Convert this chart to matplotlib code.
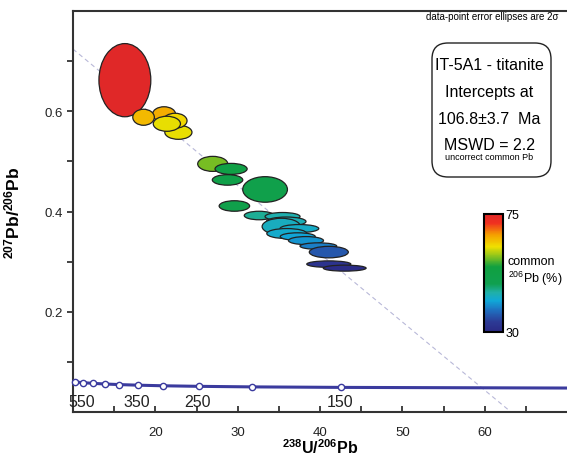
import matplotlib
matplotlib.use('Agg')
import matplotlib.pyplot as plt
from matplotlib.patches import Ellipse, FancyBboxPatch
from matplotlib.colors import LinearSegmentedColormap, Normalize
from matplotlib.transforms import IdentityTransform
import matplotlib.cm as cm

plt.rcParams['font.family'] = ['Liberation Sans', 'DejaVu Sans']
plt.rcParams['mathtext.fontset'] = 'custom'
plt.rcParams['mathtext.rm'] = 'Liberation Sans'
plt.rcParams['mathtext.bf'] = 'Liberation Sans:bold'

# concordia (Tera-Wasserburg), age markers in Ma
conc_age = [600, 550, 500, 450, 400, 350, 300, 250, 200, 150]
conc_x = [10.25, 11.23, 12.40, 13.83, 15.62, 17.92, 20.99, 25.29, 31.73, 42.5]
conc_y = [0.0599, 0.0585, 0.0572, 0.0559, 0.0547, 0.0535, 0.0523, 0.0512, 0.0501, 0.0491]
conc_end_x = 70.0
conc_end_y = 0.0478
age_labels = ['550', '350', '250', '150']
age_label_x = [11.1, 17.8, 25.1, 42.4]

# discordia (regression line)
disc_x = [10.0, 63.2]
disc_y = [0.724, 0.0]

# error ellipses: centre, full width (238/206), full height (207/206), common 206Pb %
ell_x = [16.3, 21.06, 18.57, 22.8, 22.4, 21.4,
         26.97, 29.2, 28.77, 33.33, 29.6,
         32.6, 35.45, 35.9, 35.3, 37.5, 35.97, 37.3, 38.3, 39.8, 41.07, 41.07, 43.0]
ell_y = [0.662, 0.594, 0.588, 0.558, 0.581, 0.575,
         0.495, 0.485, 0.463, 0.444, 0.411,
         0.392, 0.390, 0.380, 0.370, 0.366, 0.356, 0.350, 0.342, 0.331, 0.319, 0.295, 0.287]
ell_w = [6.3, 2.8, 2.62, 3.3, 2.9, 3.3,
         3.65, 3.9, 3.7, 5.43, 3.7,
         3.6, 4.25, 4.8, 4.66, 4.7, 4.86, 4.25, 4.25, 4.46, 4.74, 5.35, 5.2]
ell_h = [0.146, 0.030, 0.032, 0.028, 0.030, 0.030,
         0.030, 0.022, 0.021, 0.051, 0.021,
         0.017, 0.016, 0.018, 0.033, 0.016, 0.020, 0.015, 0.016, 0.013, 0.023, 0.013, 0.012]
ell_pb = [75, 66, 65, 62, 63, 62,
          58, 52, 51, 50, 50,
          45.5, 44.5, 44, 43.5, 43, 42.5, 41.5, 40.5, 39, 36, 32, 30.5]

cmap = LinearSegmentedColormap.from_list('cpb', [
    (0.0, '#2b2a85'), (0.08, '#2c3a95'), (0.18, '#1f70c0'), (0.26, '#10a8d8'),
    (0.33, '#20b0a8'), (0.40, '#10a050'), (0.55, '#10a040'), (0.63, '#80c020'),
    (0.72, '#f0e000'), (0.82, '#f5a000'), (0.92, '#f03020'), (1.0, '#e02828')])
norm = Normalize(30, 75)

fig = plt.figure(figsize=(5.67, 4.6), dpi=100)
ax = fig.add_axes([73/567, 47/460, 494/567, 401/460])

ax.plot(disc_x, disc_y, color='#b8b8d8', lw=0.8, dashes=(4, 3), zorder=1)

for x, y, w, h, p in zip(ell_x, ell_y, ell_w, ell_h, ell_pb):
    ax.add_patch(Ellipse((x, y), w, h, facecolor=cmap(norm(p)), edgecolor='#222222', lw=0.9, zorder=2))

ax.plot(conc_x + [conc_end_x], conc_y + [conc_end_y], color='#3b3b9e', lw=2.2, zorder=3, clip_on=False)
ax.plot(conc_x, conc_y, 'o', ms=4.5, mfc='white', mec='#3b3b9e', mew=1, zorder=4, clip_on=False)
for lab, lx in zip(age_labels, age_label_x):
    ax.text(lx, 0.021, lab, ha='center', va='center', fontsize=11.5, color='#222222')

ax.set_xlim(10, 70)
ax.set_ylim(0, 0.8)
ax.set_xticks([15, 20, 25, 30, 35, 40, 45, 50, 55, 60, 65])
ax.set_xticklabels(['', '20', '', '30', '', '40', '', '50', '', '60', ''])
ax.set_yticks([0.1, 0.2, 0.3, 0.4, 0.5, 0.6, 0.7])
ax.set_yticklabels(['', '0.2', '', '0.4', '', '0.6', ''])
ax.tick_params(axis='x', direction='in', length=4, width=1.2, labelsize=9.5, pad=10, colors='#222222')
ax.tick_params(axis='y', direction='out', length=4, width=1.2, labelsize=9.5, colors='#222222')
for s in ['left', 'bottom', 'top']:
    ax.spines[s].set_linewidth(1.5)
    ax.spines[s].set_color('#333333')
ax.spines['right'].set_visible(False)

ax.set_xlabel(r'$\mathbf{^{238}U/^{206}Pb}$', fontsize=11.5)
ax.xaxis.set_label_coords(0.5, -0.064)
ax.set_ylabel(r'$\mathbf{^{207}Pb/^{206}Pb}$', fontsize=12.5)
ax.yaxis.set_label_coords(-0.103, 0.5)

fig.text(559/567, 1 - 17/460, 'data-point error ellipses are 2σ', ha='right', va='center', fontsize=7)

box = FancyBboxPatch((432, 460 - 178), 119, 134, boxstyle='round,pad=0,rounding_size=16',
                     transform=IdentityTransform(), facecolor='white', edgecolor='#222222', lw=1.0)
fig.patches.append(box)
info = ['IT-5A1 - titanite', 'Intercepts at', '106.8±3.7  Ma', 'MSWD = 2.2']
info_y = [66, 93, 120, 145]
for t, py in zip(info, info_y):
    fig.text(489/567, 1 - py/460, t, ha='center', va='center', fontsize=11.5)
fig.text(489/567, 1 - 158/460, 'uncorrect common Pb', ha='center', va='center', fontsize=6.5)

cax = fig.add_axes([483.5/567, (460 - 332.5)/460, 19/567, 118/460])
cb = fig.colorbar(cm.ScalarMappable(norm=norm, cmap=cmap), cax=cax, ticks=[30, 75])
cb.outline.set_linewidth(1.5)
cb.ax.tick_params(length=0, labelsize=9, pad=2)
fig.text(508/567, 1 - 272/460, 'common\n$^{206}$Pb (%)', ha='left', va='center', fontsize=9, linespacing=1.2)

fig.savefig('out.png', dpi=100)
